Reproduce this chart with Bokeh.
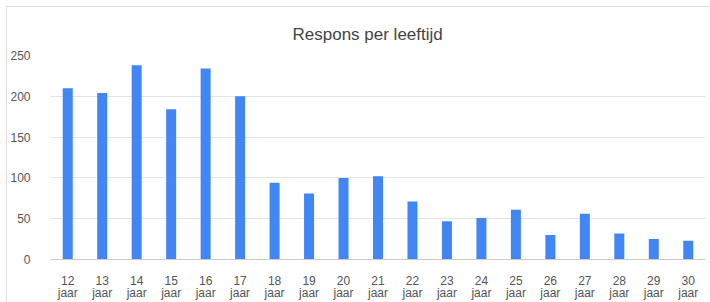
from bokeh.plotting import figure
from bokeh.models import (ColumnDataSource, FactorRange, Range1d, FixedTicker,
                          CategoricalAxis, CustomJSTickFormatter)
from bokeh.embed import file_html
from bokeh.resources import INLINE

ages = ["12", "13", "14", "15", "16", "17", "18", "19", "20", "21",
        "22", "23", "24", "25", "26", "27", "28", "29", "30"]
counts = [210, 204, 238, 184, 234, 200, 94, 81, 100, 102,
          71, 47, 51, 61, 30, 56, 32, 25, 23]
y_ticks = [0, 50, 100, 150, 200, 250]
title_text = "Respons per leeftijd"
unit = "jaar"

FONT = "Liberation Sans"
LABEL_COLOR = "#555555"

source = ColumnDataSource(dict(age=ages, count=counts))

p = figure(
    x_range=FactorRange(factors=ages, range_padding=0),
    y_range=Range1d(0, 250),
    width=703, height=295,
    output_backend="svg", toolbar_location=None,
    min_border_left=40, min_border_right=5,
    min_border_top=48, min_border_bottom=37,
    title=title_text,
)
p.styles = {"margin-left": "7px", "margin-top": "7px",
            "outline": "1px solid #dcdcdc"}

p.vbar(x="age", top="count", width=0.29, source=source,
       fill_color="#4285f4", line_color=None)

p.title.align = "left"
p.title.offset = 242
p.title.standoff = 24
p.title.text_font = FONT
p.title.text_font_size = "17px"
p.title.text_font_style = "normal"
p.title.text_color = "#444444"

p.outline_line_color = None
p.background_fill_color = "white"
p.border_fill_color = "white"

p.xgrid.grid_line_color = None
p.ygrid.grid_line_color = "#e3e3e3"
p.ygrid.ticker = FixedTicker(ticks=y_ticks)

p.yaxis.ticker = FixedTicker(ticks=y_ticks)
p.yaxis.axis_line_color = None
p.yaxis.major_tick_line_color = None
p.yaxis.minor_tick_line_color = None
p.yaxis.major_label_standoff = 14
p.yaxis.major_label_text_font = FONT
p.yaxis.major_label_text_font_size = "12px"
p.yaxis.major_label_text_color = LABEL_COLOR

p.xaxis.axis_line_color = "#cccccc"
p.xaxis.major_tick_line_color = None
p.xaxis.minor_tick_line_color = None
p.xaxis.major_label_standoff = 10
p.xaxis.major_label_text_font = FONT
p.xaxis.major_label_text_font_size = "12px"
p.xaxis.major_label_text_color = LABEL_COLOR

unit_axis = CategoricalAxis(
    axis_line_color=None, major_tick_line_color=None,
    minor_tick_line_color=None, major_label_standoff=-8,
    major_label_text_font=FONT, major_label_text_font_size="12px",
    major_label_text_color=LABEL_COLOR,
    formatter=CustomJSTickFormatter(args=dict(unit=unit), code="return unit;"),
)
p.add_layout(unit_axis, "below")

open("out.html", "w").write(file_html(p, INLINE))
